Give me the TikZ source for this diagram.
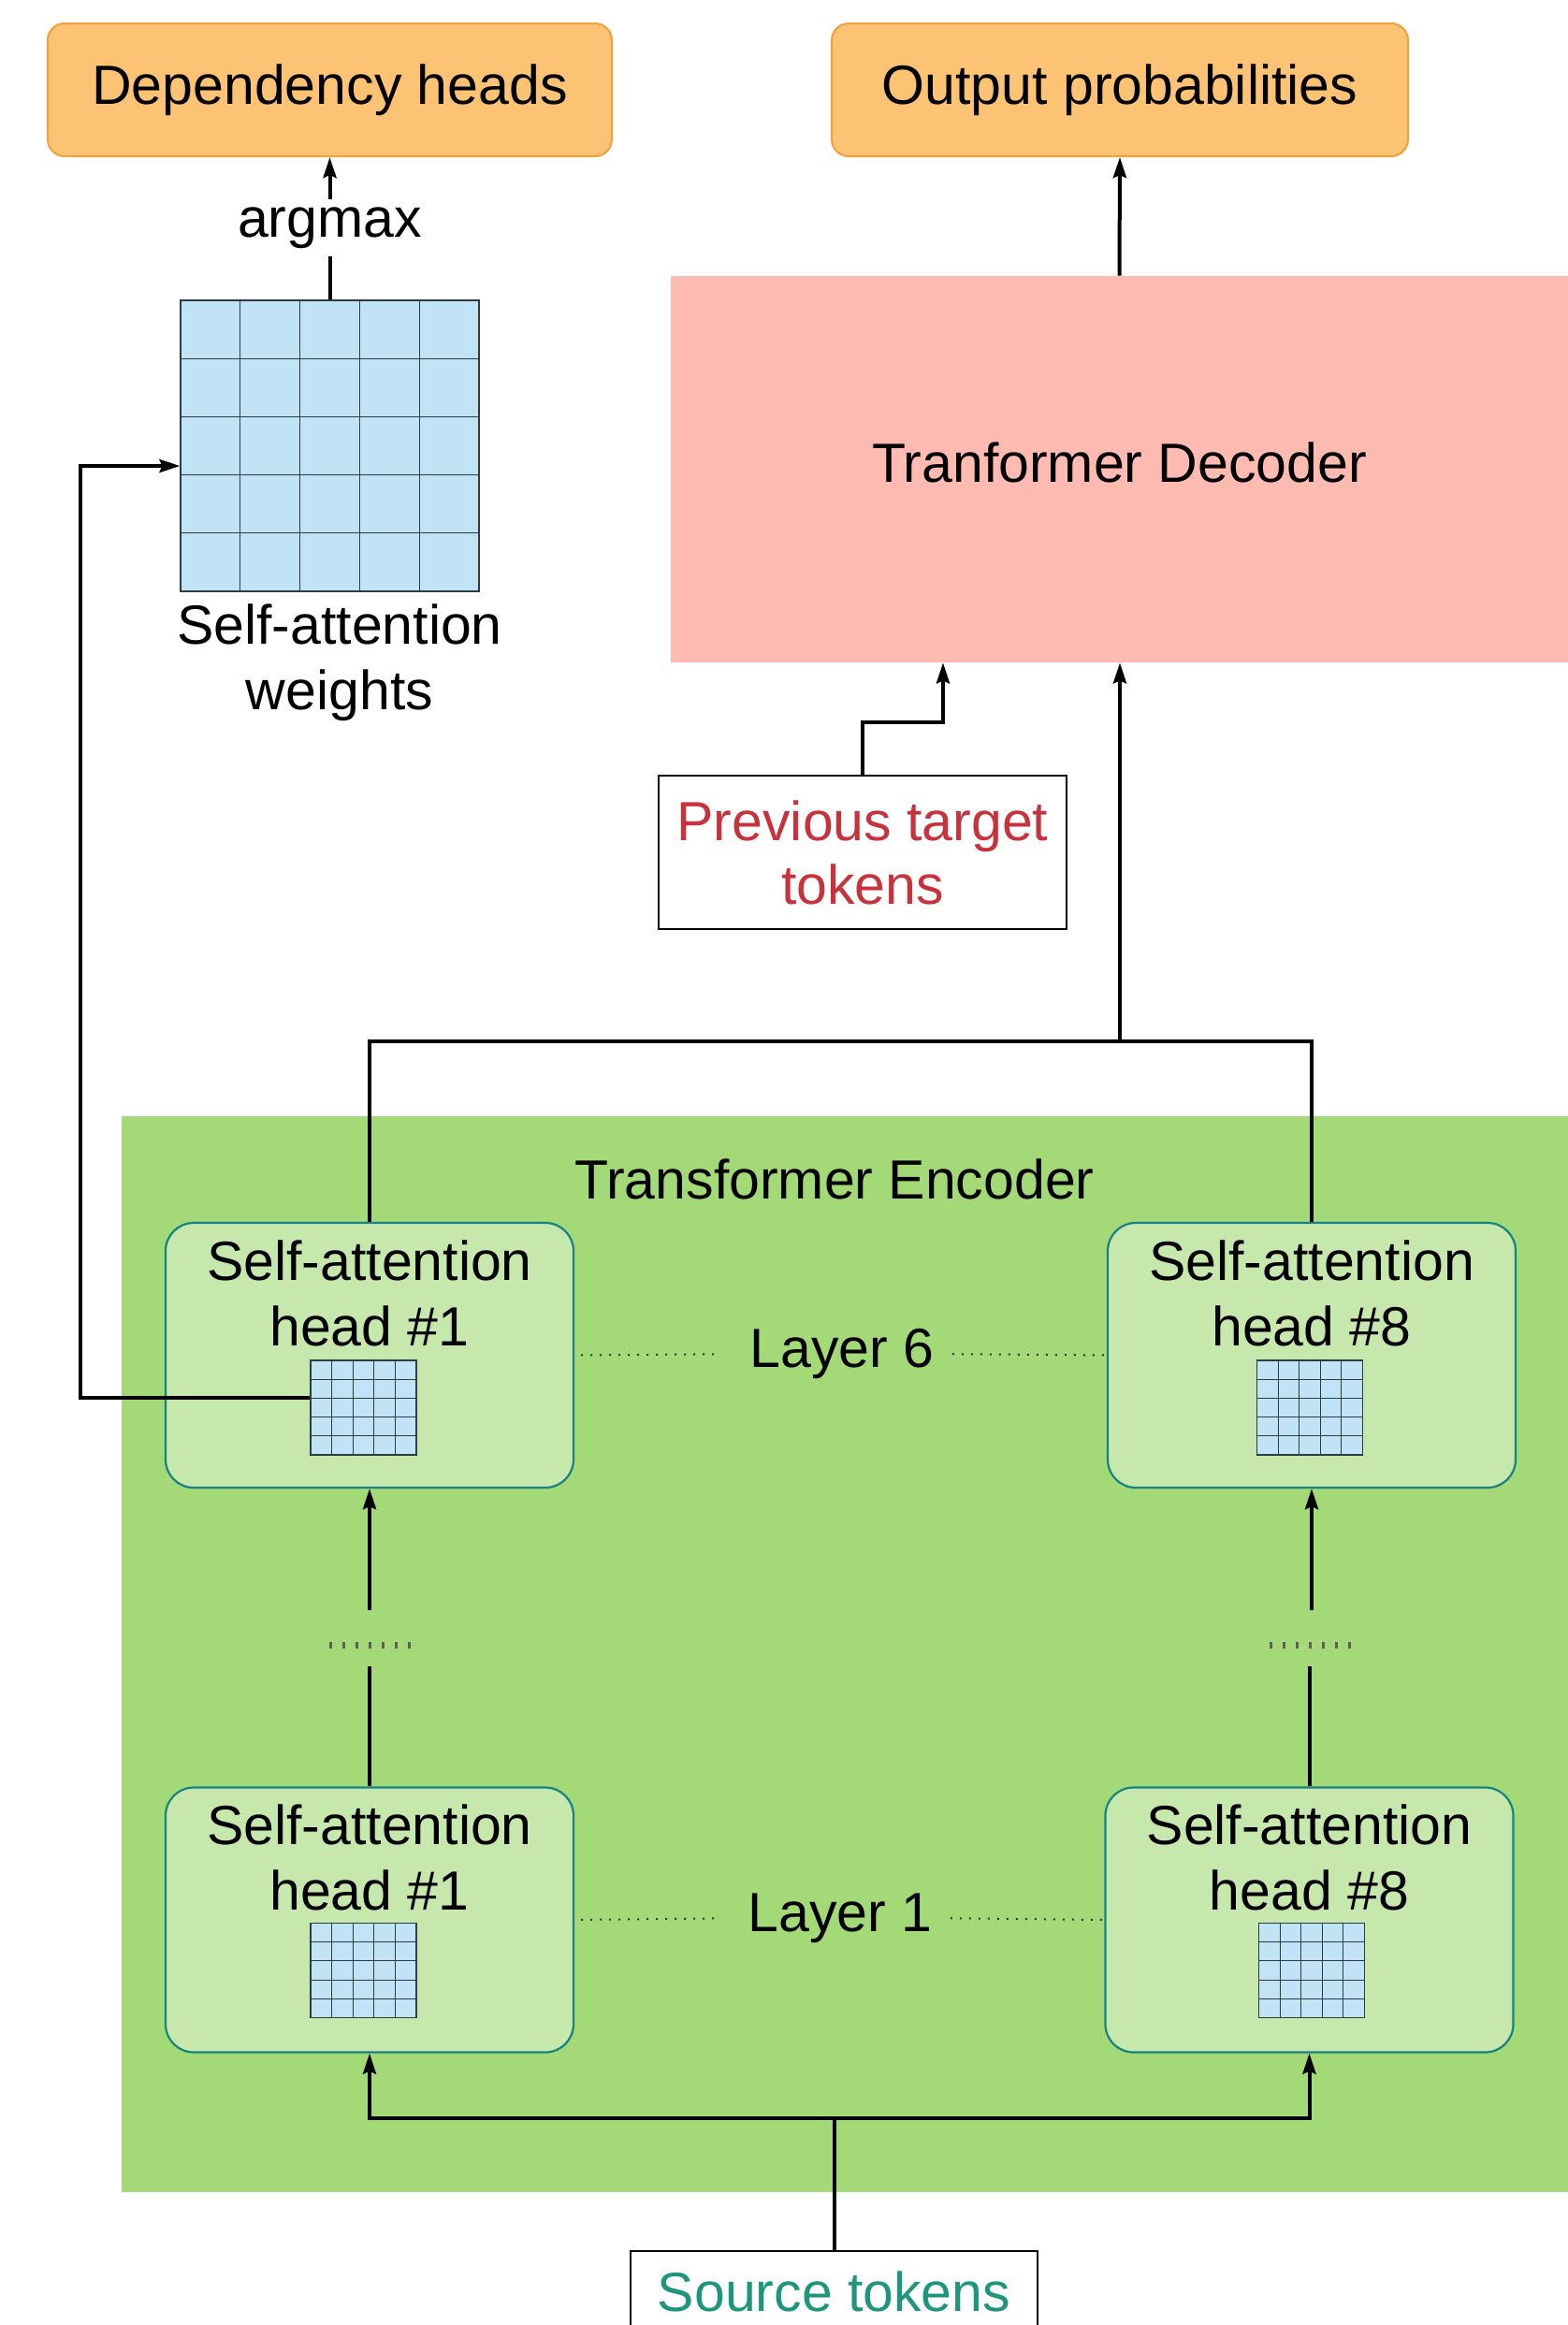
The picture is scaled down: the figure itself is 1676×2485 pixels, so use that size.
\documentclass[tikz,border=0pt]{standalone}
\usepackage{fontspec}
\setmainfont{Liberation Sans}
\usetikzlibrary{arrows.meta,calc}
\definecolor{orangefill}{HTML}{FDC375}
\definecolor{orangeline}{HTML}{F2A03C}
\definecolor{decfill}{HTML}{FFBBB1}
\definecolor{encfill}{HTML}{A4D977}
\definecolor{headfill}{HTML}{C6E8AC}
\definecolor{headline}{HTML}{168282}
\definecolor{gridfill}{HTML}{C1E3F6}
\definecolor{gridcol}{HTML}{2E3A44}
\definecolor{prevcol}{HTML}{C8323C}
\definecolor{srccol}{HTML}{1E967D}
\definecolor{dotcol}{HTML}{5E5E5E}
\begin{document}
\begin{tikzpicture}[x=0.5pt,y=-0.5pt,
  every node/.style={font=\fontsize{29.5pt}{35pt}\selectfont, align=center, inner sep=0pt},
  orangebox/.style={draw=orangeline, fill=orangefill, line width=1pt, rounded corners=9pt},
  decbox/.style={fill=decfill},
  encbox/.style={fill=encfill},
  headbox/.style={draw=headline, fill=headfill, line width=1.1pt, rounded corners=15pt,
    minimum width=218pt, minimum height=141.5pt},
  plainbox/.style={draw=black, fill=white, line width=0.8pt},
  attgrid/.style={fill=gridfill, draw=gridcol, line width=0.55pt,
    path picture={
      \foreach \k in {1,2,3,4}{
        \draw[gridcol, line width=0.55pt]
          ($(path picture bounding box.north west)!\k/5!(path picture bounding box.north east)$) --
          ($(path picture bounding box.south west)!\k/5!(path picture bounding box.south east)$);
        \draw[gridcol, line width=0.55pt]
          ($(path picture bounding box.north west)!\k/5!(path picture bounding box.south west)$) --
          ($(path picture bounding box.north east)!\k/5!(path picture bounding box.south east)$);
      }}},
  smallgrid/.style={attgrid, minimum width=56.5pt, minimum height=50.5pt},
  conn/.style={line width=2pt},
  arr/.style={conn, -{Stealth[length=11pt,width=7pt,inset=1.5pt]}},
  dotline/.style={line width=1pt, dash pattern=on 1pt off 4pt, black!80},
  graydots/.style={line width=3.5pt, dotcol, dash pattern=on 1.6pt off 5.4pt}
]
\fill[white] (0,0) rectangle (1676,2485);
\useasboundingbox (0,0) rectangle (1676,2485);

% top outputs
\node[orangebox, minimum width=301.5pt, minimum height=71pt] (dep) at (352.5,96) {Dependency heads};
\node[orangebox, minimum width=308pt, minimum height=71pt] (out) at (1197,96) {Output probabilities};

% self-attention weights
\node[attgrid, minimum width=159.5pt, minimum height=155.5pt] (bg) at (352.5,476.5) {};
\node[inner ysep=4pt] (argmax) at (352.5,243.5) {argmax};
\node (sawt) at (363,708) {Self-attention\\weights};

% decoder
\node[decbox, minimum width=479.5pt, minimum height=206.5pt, text depth=7pt] (dec) at (1196.5,501.5) {Tranformer Decoder};

% previous target tokens
\node[plainbox, text=prevcol, minimum width=218pt, minimum height=82pt, font=\fontsize{29.5pt}{34pt}\selectfont] (prev) at (922,911) {Previous target\\tokens};

% encoder
\node[encbox, minimum width=773pt, minimum height=575pt] (enc) at (903,1768) {};
\node (enclabel) at (892,1260) {Transformer Encoder};

% heads layer 6
\node[headbox] (h61) at (395,1448.5) {};
\node (h61t) at ($(h61.north)+(0,76)$) {Self-attention\\head \#1};
\node[smallgrid] (g61) at (388.5,1504.5) {};
\node[headbox] (h68) at (1402,1448.5) {};
\node (h68t) at ($(h68.north)+(0,76)$) {Self-attention\\head \#8};
\node[smallgrid] (g68) at (1400,1504.5) {};
\node (l6) at (900,1447) {Layer 6};

% heads layer 1
\node[headbox] (h11) at (395,2052) {};
\node (h11t) at ($(h11.north)+(0,76)$) {Self-attention\\head \#1};
\node[smallgrid] (g11) at (388.5,2106) {};
\node[headbox] (h18) at (1399.5,2052) {};
\node (h18t) at ($(h18.north)+(0,76)$) {Self-attention\\head \#8};
\node[smallgrid] (g18) at (1402,2106) {};
\node (l1) at (898,2050) {Layer 1};

% source tokens
\node[plainbox, text=srccol, anchor=north, minimum width=217.5pt, text height=21pt, text depth=6pt, inner ysep=11.5pt] (src) at (891.5,2405) {Source tokens};

% junction coordinates
\coordinate (jt) at (1197,1113);
\coordinate (pj) at (1008,772);
\coordinate (lc) at (86,498);
\coordinate (gl) at (332,1494);
\coordinate (jb) at (891.5,2264);
\coordinate (cL1) at (395,1781);
\coordinate (cL2) at (395,1721);
\coordinate (cR1) at (1399.5,1781);
\coordinate (cR2) at (1402,1721);

% connectors
\draw[conn] (bg.north) -- (bg.north |- argmax.south);
\draw[arr] (argmax.north) -- (dep.south);
\draw[arr] (dec.north) -- (out.south);
\draw[arr] (prev.north) |- (pj) -- (pj |- dec.south);
\draw[conn] (h61.north) |- (jt) -| (h68.north);
\draw[arr] (jt) -- (jt |- dec.south);
\draw[arr] (g61.west |- gl) -| (lc) -- (lc -| bg.west);

\draw[conn] (h11.north) -- (cL1);
\draw[arr] (cL2) -- (h61.south);
\draw[conn] (h18.north) -- (cR1);
\draw[arr] (cR2) -- (h68.south);
\draw[graydots] (352,1758) -- (440,1758);
\draw[graydots] (1357,1758) -- (1445,1758);

\draw[conn] (src.north) -- (jb);
\draw[arr] (jb) -| (h11.south);
\draw[arr] (jb) -| (h18.south);

% layer dotted guides
\draw[dotline, shorten <=3.5pt, shorten >=17.5pt] (h61.east) -- (l6.west);
\draw[dotline, shorten <=9.5pt] (l6.east) -- (h68.west);
\draw[dotline, shorten <=3.5pt, shorten >=17.5pt] (h11.east) -- (l1.west);
\draw[dotline, shorten <=9.5pt] (l1.east) -- (h18.west);
\end{tikzpicture}
\end{document}
